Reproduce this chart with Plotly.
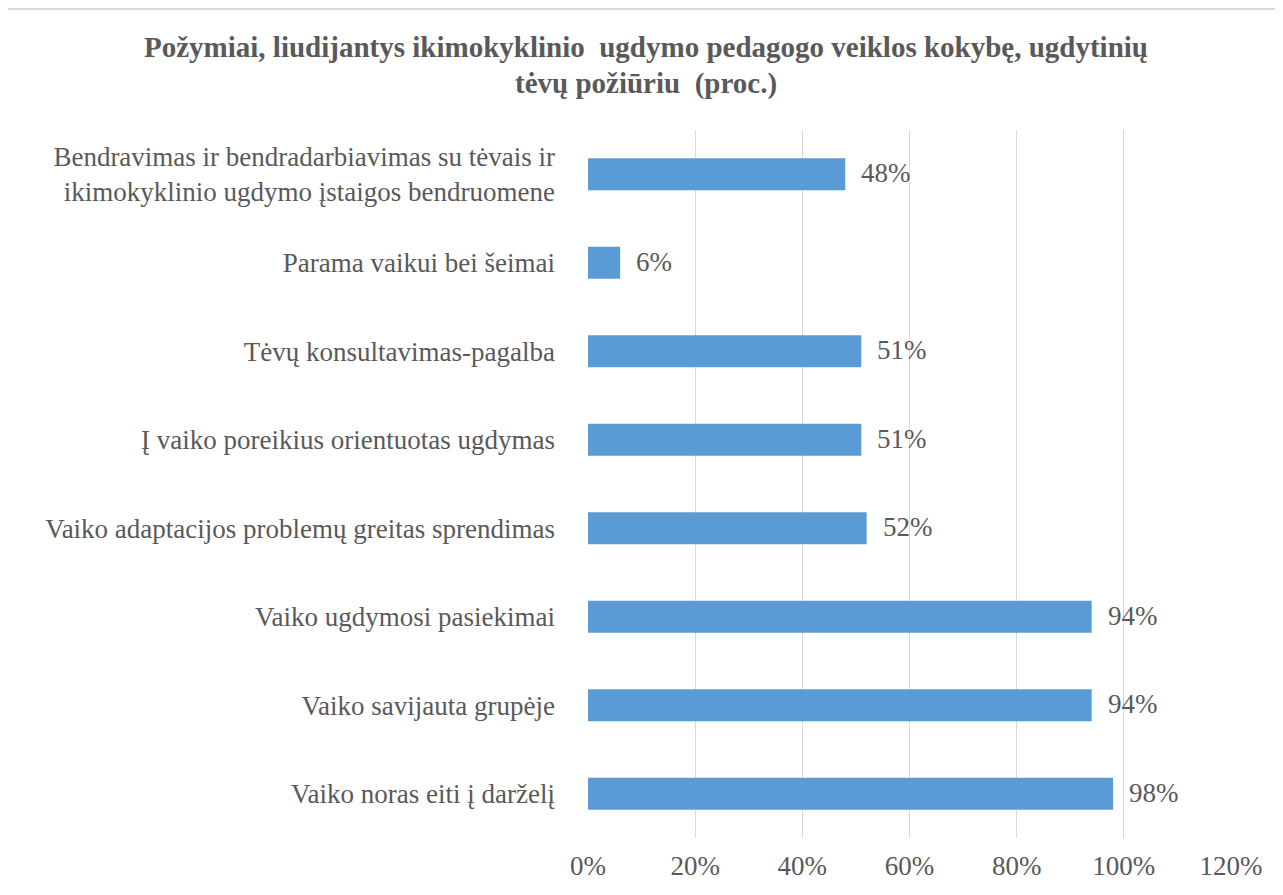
import plotly.graph_objects as go

categories = [
    "Bendravimas ir bendradarbiavimas su tėvais ir<br>ikimokyklinio ugdymo įstaigos bendruomene",
    "Parama vaikui bei šeimai",
    "Tėvų konsultavimas-pagalba",
    "Į vaiko poreikius orientuotas ugdymas",
    "Vaiko adaptacijos problemų greitas sprendimas",
    "Vaiko ugdymosi pasiekimai",
    "Vaiko savijauta grupėje",
    "Vaiko noras eiti į darželį",
]
values = [48, 6, 51, 51, 52, 94, 94, 98]
tick_vals = [0, 20, 40, 60, 80, 100, 120]
tick_text = ["0%", "20%", "40%", "60%", "80%", "100%", "120%"]
title_lines = [
    "Požymiai, liudijantys ikimokyklinio  ugdymo pedagogo veiklos kokybę, ugdytinių",
    "tėvų požiūriu  (proc.)",
]

FONT = "Liberation Serif"
TXT = "#595959"
FS = 27

fig = go.Figure()
fig.add_trace(go.Bar(
    x=values, y=categories, orientation="h",
    marker=dict(color="#5B9BD5", line=dict(width=0)),
    hoverinfo="skip",
))

for c, v in zip(categories, values):
    fig.add_annotation(
        x=v, y=c, text=f"{v}%", showarrow=False,
        xanchor="left", xshift=14, yshift=1,
        font=dict(family=FONT, size=FS, color=TXT),
    )

# title as two annotations (pixel-placed relative to plot area)
PH = 708.0
for i, line in enumerate(title_lines):
    ypix = 47 + 36 * i  # centre of line in page px
    fig.add_annotation(
        xref="paper", yref="paper",
        x=(646 - 588) / 643.0, y=(838 - ypix) / PH,
        text=f"<b>{line}</b>", showarrow=False,
        xanchor="center", yanchor="middle",
        font=dict(family=FONT, size=29, color=TXT),
    )

fig.add_shape(type="rect", xref="paper", yref="paper",
              x0=(7 - 588) / 643.0, x1=1.3, y0=-0.3, y1=(838 - 9) / PH,
              line=dict(color="#D9D9D9", width=2), fillcolor="rgba(0,0,0,0)",
              layer="below")

fig.update_layout(
    width=1275, height=887,
    margin=dict(l=580, r=52, t=122, b=57),
    paper_bgcolor="white", plot_bgcolor="white",
    bargap=0.64,
    showlegend=False,
    font=dict(family=FONT, size=FS, color=TXT),
)

fig.update_xaxes(range=[0, 120], tickvals=tick_vals, ticktext=tick_text,
                 showgrid=True, gridcolor="#D9D9D9", gridwidth=1,
                 zeroline=False, showline=False, ticks="", automargin=False,
                 ticklabelstandoff=9,
                 tickfont=dict(family=FONT, size=FS, color=TXT))
fig.update_yaxes(autorange="reversed", showgrid=False, zeroline=False,
                 showline=False, ticks="", ticklabelstandoff=32, automargin=False,
                 tickfont=dict(family=FONT, size=FS, color=TXT))

fig.write_html("out.html")
